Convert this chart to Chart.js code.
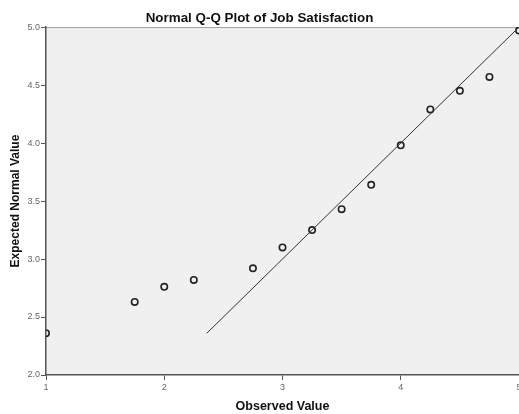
<!DOCTYPE html>
<html>
<head>
<meta charset="utf-8">
<style>
html,body{margin:0;padding:0;background:#fff;overflow:hidden;}
#wrap{width:519px;height:414px;position:relative;}
canvas{display:block;}
</style>
<script src="https://cdn.jsdelivr.net/npm/chart.js@4"></script>
</head>
<body>
<div id="wrap"><canvas id="c" width="519" height="414"></canvas></div>
<script>
const observed = [1, 1.75, 2, 2.25, 2.75, 3, 3.25, 3.5, 3.75, 4, 4.25, 4.5, 4.75, 5];
const expected = [2.36, 2.63, 2.76, 2.82, 2.92, 3.10, 3.25, 3.43, 3.64, 3.98, 4.29, 4.45, 4.57, 4.97];
const refLineX = [2.36, 5];
const refLineY = [2.36, 5];
const xTicks = [1, 2, 3, 4, 5];
const yTicks = [2.0, 2.5, 3.0, 3.5, 4.0, 4.5, 5.0];

const pts = observed.map((x, i) => ({x: x, y: expected[i]}));
const linePts = refLineX.map((x, i) => ({x: x, y: refLineY[i]}));

const bgPlugin = {
  id: 'bg',
  beforeDraw(chart) {
    const {ctx, chartArea: a} = chart;
    ctx.save();
    ctx.fillStyle = '#f0f0f0';
    ctx.fillRect(a.left, a.top, a.right - a.left, a.bottom - a.top);
    ctx.strokeStyle = '#a0a0a0';
    ctx.lineWidth = 1;
    ctx.beginPath();
    ctx.moveTo(a.left, a.top + 0.5);
    ctx.lineTo(a.right, a.top + 0.5);
    ctx.stroke();
    ctx.restore();
  }
};

const FONT = 'Liberation Sans, Arial, sans-serif';

new Chart(document.getElementById('c'), {
  type: 'scatter',
  data: {
    datasets: [
      {
        type: 'line',
        data: linePts,
        borderColor: '#333',
        borderWidth: 1,
        pointRadius: 0,
        fill: false,
        clip: 0
      },
      {
        data: pts,
        pointRadius: 3.2,
        pointBorderWidth: 1.6,
        pointBorderColor: '#222',
        pointBackgroundColor: 'rgba(0,0,0,0)',
        clip: 0
      }
    ]
  },
  options: {
    responsive: false,
    animation: false,
    devicePixelRatio: 1,
    layout: {autoPadding: false, padding: {left: 0, right: 0, top: 0, bottom: 0}},
    plugins: {
      legend: {display: false},
      tooltip: {enabled: false},
      title: {
        display: true,
        text: 'Normal Q-Q Plot of Job Satisfaction',
        color: '#111',
        font: {family: FONT, size: 13.4, weight: 'bold', lineHeight: 1.2},
        padding: {top: 10, bottom: 1}
      }
    },
    scales: {
      x: {
        type: 'linear',
        min: 1, max: 5,
        afterBuildTicks(s) { s.ticks = xTicks.map(v => ({value: v})); },
        afterFit(s) { s.height = 39; s.paddingRight = 0; s.paddingLeft = 0; },
        border: {display: true, color: '#555', width: 1.5},
        grid: {display: true, drawOnChartArea: false, drawTicks: true, tickLength: 5, color: '#555', lineWidth: 1},
        ticks: {
          color: '#666',
          font: {family: FONT, size: 9},
          padding: 2,
          maxRotation: 0,
          callback: v => String(v)
        },
        title: {
          display: true,
          text: 'Observed Value',
          color: '#111',
          font: {family: FONT, size: 12.5, weight: 'bold', lineHeight: 1.2},
          padding: {top: 4, bottom: 0}
        }
      },
      y: {
        type: 'linear',
        min: 2, max: 5,
        afterBuildTicks(s) { s.ticks = yTicks.map(v => ({value: v})); },
        afterFit(s) { s.width = 46; s.paddingTop = 0; s.paddingBottom = 0; },
        border: {display: true, color: '#555', width: 1.5},
        grid: {display: true, drawOnChartArea: false, drawTicks: true, tickLength: 5, color: '#555', lineWidth: 1},
        ticks: {
          color: '#666',
          font: {family: FONT, size: 9},
          padding: 1,
          callback: v => Number(v).toFixed(1)
        },
        title: {
          display: true,
          text: 'Expected Normal Value',
          color: '#111',
          font: {family: FONT, size: 12, weight: 'bold', lineHeight: 1.2},
          padding: {top: 8, bottom: 2}
        }
      }
    }
  },
  plugins: [bgPlugin]
});
</script>
</body>
</html>
